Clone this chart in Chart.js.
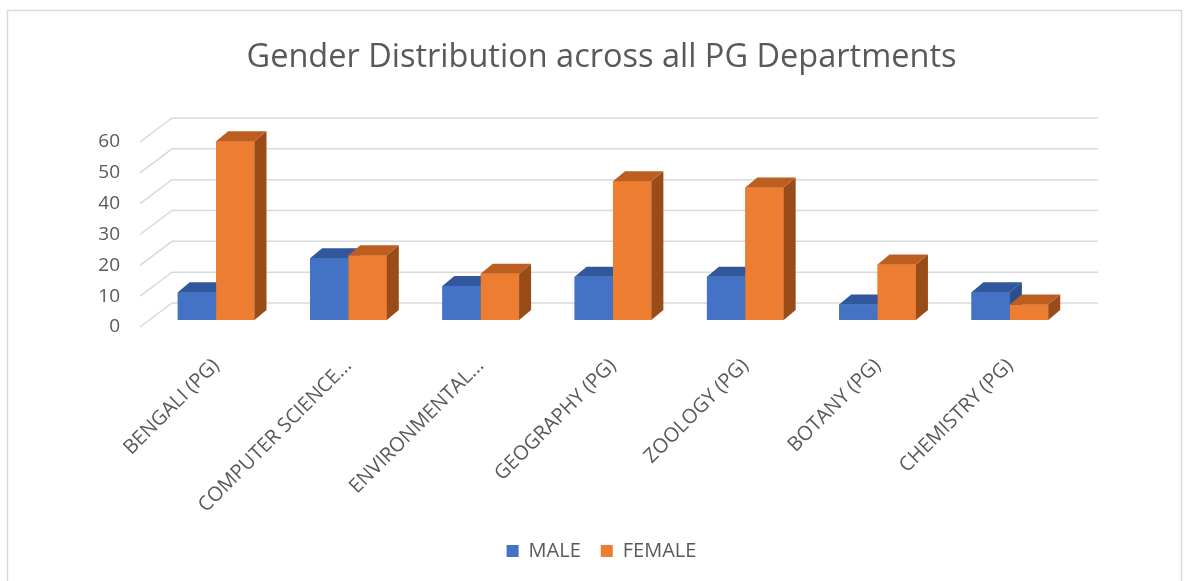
<!DOCTYPE html>
<html lang="en">
<head>
    <meta charset="UTF-8">
    <title>Gender Distribution across all PG Departments</title>
    <style>
        html, body { margin: 0; padding: 0; background: #fff; }
        canvas { display: block; }
    </style>
</head>
<body>

    <canvas id="genderChart" width="1191" height="581"></canvas>

    <script src="https://cdn.jsdelivr.net/npm/chart.js@4.4.1/dist/chart.umd.min.js"></script>

    <script>
        // Chart data
        const departments = ['BENGALI (PG)', 'COMPUTER SCIENCE...', 'ENVIRONMENTAL...', 'GEOGRAPHY (PG)', 'ZOOLOGY (PG)', 'BOTANY (PG)', 'CHEMISTRY (PG)'];
        const maleCounts = [9, 20, 11, 14, 14, 5, 9];
        const femaleCounts = [58, 21, 15, 45, 43, 18, 5];
        const yTicks = { min: 0, max: 60, step: 10 };

        const textColor = '#595959';
        const gridColor = '#d9d9d9';
        const fontFamily = "'Open Sans', 'Liberation Sans', sans-serif";

        // depth of the fake 3d bars and back wall
        const barDepth = { dx: 12, dy: 10 };
        const wall = { frontDx: -10, frontDy: 7, backDx: 22, backDy: -17, extraRight: 22 };

        const shades = {
            '#4472C4': { top: '#31579c', side: '#2b4e8c' },
            '#ED7D31': { top: '#bc5e20', side: '#994b18' }
        };

        // white page + thin frame round the chart
        const framePlugin = {
            id: 'frame',
            beforeDraw(chart) {
                const ctx = chart.ctx;
                ctx.save();
                ctx.fillStyle = '#fff';
                ctx.fillRect(0, 0, chart.width, chart.height);
                ctx.strokeStyle = gridColor;
                ctx.lineWidth = 1.5;
                ctx.strokeRect(7.5, 10.5, 1174, 600);
                ctx.restore();
            }
        };

        // back wall gridlines with the little slanted floor lines on the left
        const wallPlugin = {
            id: 'wall',
            beforeDatasetsDraw(chart) {
                const ctx = chart.ctx;
                const y = chart.scales.y;
                const area = chart.chartArea;
                ctx.save();
                ctx.strokeStyle = gridColor;
                ctx.lineWidth = 1.5;
                y.ticks.forEach(t => {
                    const py = y.getPixelForValue(t.value);
                    ctx.beginPath();
                    ctx.moveTo(area.left + wall.frontDx, py + wall.frontDy);
                    ctx.lineTo(area.left + wall.backDx, py + wall.backDy);
                    ctx.lineTo(area.right + wall.extraRight, py + wall.backDy);
                    ctx.stroke();
                });
                ctx.restore();
            }
        };

        function drawFaces(ctx, bar, shade) {
            const p = bar.getProps(['x', 'y', 'base', 'width'], true);
            const left = p.x - p.width / 2;
            const right = p.x + p.width / 2;
            const { dx, dy } = barDepth;

            ctx.fillStyle = shade.side;
            ctx.beginPath();
            ctx.moveTo(right, p.y);
            ctx.lineTo(right + dx, p.y - dy);
            ctx.lineTo(right + dx, p.base - dy);
            ctx.lineTo(right, p.base);
            ctx.closePath();
            ctx.fill();

            ctx.fillStyle = shade.top;
            ctx.beginPath();
            ctx.moveTo(left, p.y);
            ctx.lineTo(left + dx, p.y - dy);
            ctx.lineTo(right + dx, p.y - dy);
            ctx.lineTo(right, p.y);
            ctx.closePath();
            ctx.fill();
        }

        // redraw each group left to right so the boxes overlap like in excel
        const depthPlugin = {
            id: 'depth',
            afterDatasetsDraw(chart) {
                const ctx = chart.ctx;
                const metas = chart.data.datasets.map((ds, i) => chart.getDatasetMeta(i));
                ctx.save();
                departments.forEach((name, i) => {
                    metas.forEach((meta, d) => {
                        const bar = meta.data[i];
                        bar.draw(ctx, chart.chartArea);
                        drawFaces(ctx, bar, shades[chart.data.datasets[d].backgroundColor]);
                    });
                });
                ctx.restore();
            }
        };

        const ctx = document.getElementById('genderChart').getContext('2d');
        new Chart(ctx, {
            type: 'bar',
            data: {
                labels: departments,
                datasets: [{
                    label: 'MALE',
                    data: maleCounts,
                    backgroundColor: '#4472C4'
                }, {
                    label: 'FEMALE',
                    data: femaleCounts,
                    backgroundColor: '#ED7D31'
                }]
            },
            options: {
                responsive: false,
                animation: false,
                layout: { padding: { top: 0, right: 0, bottom: 10, left: 12 } },
                datasets: {
                    bar: { categoryPercentage: 0.58, barPercentage: 1, borderWidth: 0 }
                },
                scales: {
                    x: {
                        grid: { display: false },
                        border: { display: false },
                        ticks: {
                            color: textColor,
                            font: { family: fontFamily, size: 20 },
                            minRotation: 45,
                            maxRotation: 45,
                            autoSkip: false,
                            padding: 26
                        },
                        afterFit(scale) { scale.height = 201; }
                    },
                    y: {
                        min: yTicks.min,
                        max: yTicks.max,
                        grid: { display: false, drawTicks: false },
                        border: { display: false },
                        ticks: {
                            stepSize: yTicks.step,
                            color: textColor,
                            font: { family: fontFamily, size: 19 },
                            padding: 30,
                            labelOffset: 7
                        },
                        afterFit(scale) { scale.width = 138; }
                    },
                    // empty right axis, only keeps room on the right side
                    yRight: {
                        position: 'right',
                        min: yTicks.min,
                        max: yTicks.max,
                        grid: { display: false, drawTicks: false },
                        border: { display: false },
                        ticks: { display: false },
                        afterFit(scale) { scale.width = 115; }
                    }
                },
                plugins: {
                    title: {
                        display: true,
                        text: 'Gender Distribution across all PG Departments',
                        color: textColor,
                        font: { family: fontFamily, size: 32.5, weight: 'normal' },
                        padding: { top: 38, bottom: 58 }
                    },
                    legend: {
                        position: 'bottom',
                        labels: {
                            color: textColor,
                            font: { family: fontFamily, size: 20 },
                            boxWidth: 12,
                            boxHeight: 12,
                            padding: 20
                        }
                    },
                    tooltip: { enabled: false }
                }
            },
            plugins: [framePlugin, wallPlugin, depthPlugin]
        });
    </script>

</body>
</html>
